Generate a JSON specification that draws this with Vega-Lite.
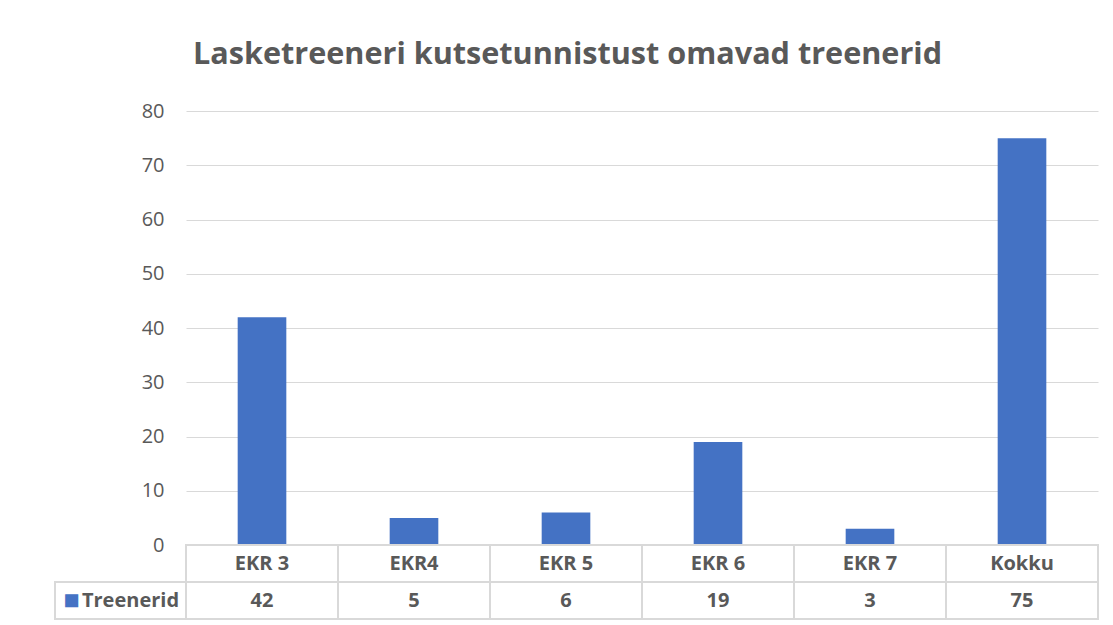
{
  "$schema": "https://vega.github.io/schema/vega-lite/v6.json",
  "padding": {"left": 54, "top": 40, "right": 16, "bottom": 2},
  "title": {"text": "Lasketreeneri kutsetunnistust omavad treenerid", "font": "Open Sans", "fontSize": 30.6, "fontWeight": "bold", "color": "#595959", "anchor": "middle", "offset": 30, "dx": -9},
  "config": {"view": {"stroke": null}, "font": "Open Sans"},
  "datasets": {
    "d": [
      {"kat": "EKR 3", "treenerid": 42},
      {"kat": "EKR4", "treenerid": 5},
      {"kat": "EKR 5", "treenerid": 6},
      {"kat": "EKR 6", "treenerid": 19},
      {"kat": "EKR 7", "treenerid": 3},
      {"kat": "Kokku", "treenerid": 75}
    ]
  },
  "columns": 2,
  "spacing": 0,
  "bounds": "flush",
  "concat": [
    {"width": 131, "height": 434, "data": {"values": []}, "mark": "point", "encoding": {}},
    {
      "width": 912, "height": 434,
      "data": {"name": "d"},
      "mark": {"type": "bar", "color": "#4472C4"},
      "encoding": {
        "x": {"field": "kat", "type": "nominal", "sort": null, "scale": {"paddingInner": 0.68, "paddingOuter": 0.34}, "axis": null},
        "y": {"field": "treenerid", "type": "quantitative", "scale": {"domain": [0, 80]},
          "axis": {"values": [0, 10, 20, 30, 40, 50, 60, 70, 80], "title": null, "domain": false, "ticks": false, "grid": true, "gridColor": "#d9d9d9", "gridWidth": 1, "labelFont": "Open Sans", "labelFontSize": 20, "labelColor": "#595959", "labelPadding": 22}}
      }
    },
    {
      "width": 131, "height": 74,
      "data": {"values": [{"rida": "treenerid", "nimi": "Treenerid"}]},
      "encoding": {"y": {"field": "rida", "type": "nominal", "scale": {"domain": ["kat", "treenerid"], "paddingInner": 0, "paddingOuter": 0}, "axis": null}},
      "layer": [
        {"mark": {"type": "rect", "fill": "white", "stroke": "#d9d9d9", "strokeWidth": 2}},
        {"mark": {"type": "text", "text": "■", "color": "#4472C4", "fontSize": 27, "dx": -49}},
        {"mark": {"type": "text", "color": "#595959", "fontSize": 20, "fontWeight": "bold", "dx": 10}, "encoding": {"text": {"field": "nimi"}}}
      ]
    },
    {
      "width": 912, "height": 74,
      "data": {"name": "d"},
      "transform": [{"fold": ["kat", "treenerid"], "as": ["rida", "v"]}],
      "encoding": {
        "x": {"field": "kat", "type": "nominal", "sort": null, "scale": {"paddingInner": 0, "paddingOuter": 0}, "axis": null},
        "y": {"field": "rida", "type": "nominal", "scale": {"domain": ["kat", "treenerid"], "paddingInner": 0, "paddingOuter": 0}, "axis": null}
      },
      "layer": [
        {"mark": {"type": "rect", "fill": "white", "stroke": "#d9d9d9", "strokeWidth": 2}},
        {"mark": {"type": "text", "color": "#595959", "fontSize": 20, "fontWeight": "bold"}, "encoding": {"text": {"field": "v", "type": "nominal"}}}
      ]
    }
  ]
}
